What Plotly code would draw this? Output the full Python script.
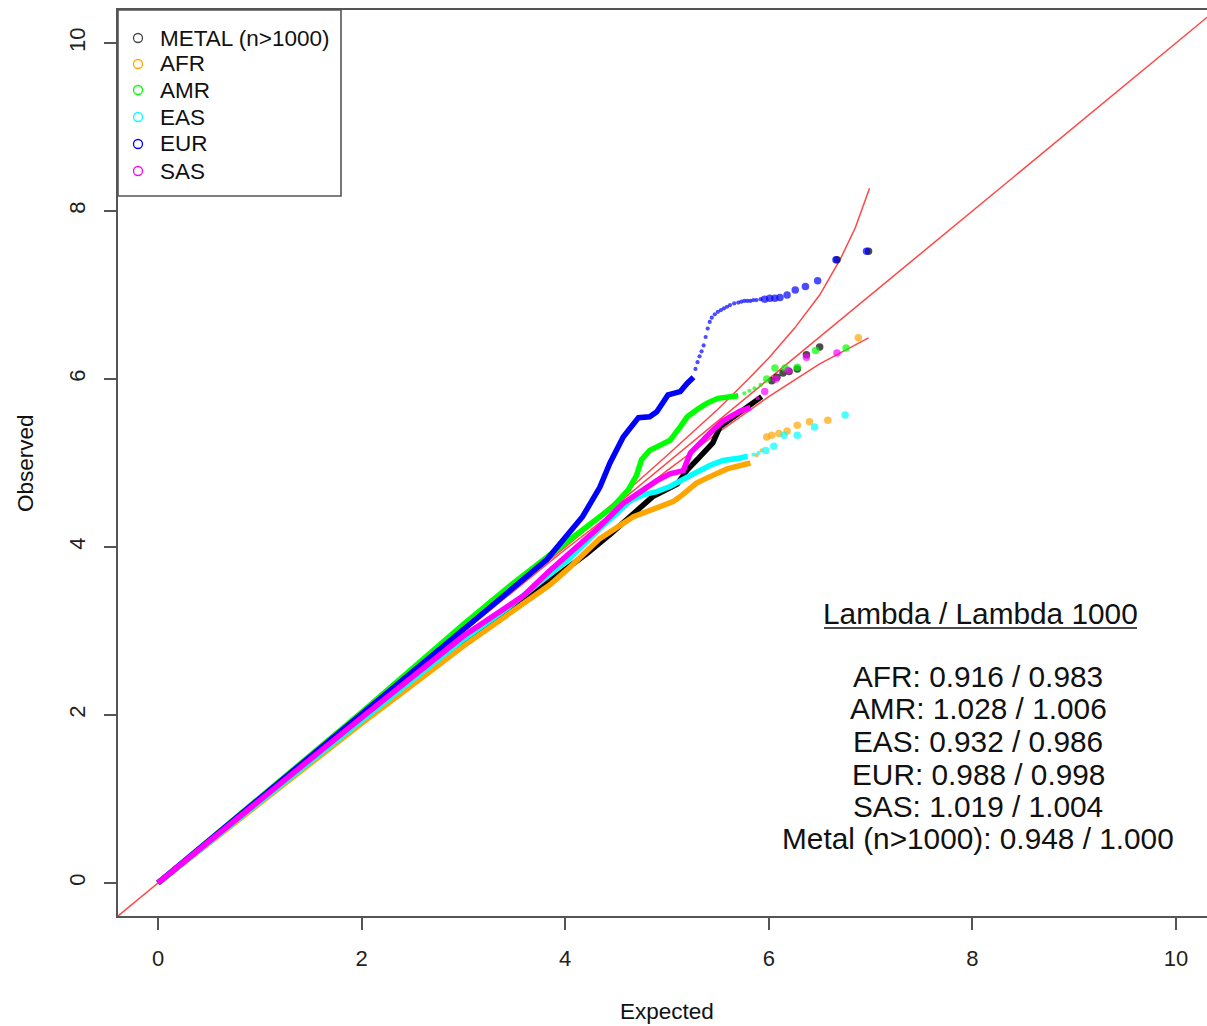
import plotly.graph_objects as go

# ---------------- data ----------------
X_TICKS = [0, 2, 4, 6, 8, 10]
Y_TICKS = [0, 2, 4, 6, 8, 10]

# reference line y = x and confidence band lines
DIAG_X = [-0.5, 11.0]
DIAG_Y = [-0.5, 11.0]
CI_UP_X = [0, 3.0, 4.0, 4.5, 5.0, 5.5, 5.8, 6.0, 6.25, 6.5, 6.7, 6.85, 6.99]
CI_UP_Y = [0, 3.01, 4.03, 4.55, 5.09, 5.64, 6.0, 6.25, 6.6, 7.0, 7.42, 7.8, 8.27]
CI_LO_X = [0, 3.0, 4.0, 4.5, 5.0, 5.5, 6.0, 6.5, 6.98]
CI_LO_Y = [0, 2.99, 3.97, 4.44, 4.91, 5.36, 5.79, 6.18, 6.49]

# METAL (n>1000)
METAL_DX = [0, 0.5, 1, 1.5, 2, 2.5, 2.97, 3.36, 3.53, 3.85, 4.21, 4.45, 4.67, 4.86, 5.10, 5.20, 5.32, 5.45, 5.52, 5.65, 5.82, 5.93]
METAL_DY = [0, 0.49, 0.98, 1.46, 1.94, 2.40, 2.83, 3.17, 3.31, 3.60, 3.92, 4.16, 4.39, 4.60, 4.75, 4.92, 5.07, 5.24, 5.43, 5.55, 5.69, 5.79]
METAL_TX = [6.03, 6.08, 6.14, 6.20, 6.28, 6.37, 6.50, 6.67, 6.98]
METAL_TY = [5.98, 6.02, 6.07, 6.09, 6.12, 6.29, 6.38, 7.42, 7.52]

# AFR
AFR_DX = [0, 1, 2, 2.5, 3.0, 3.5, 3.85, 4.02, 4.34, 4.67, 5.06, 5.13, 5.29, 5.39, 5.59, 5.82]
AFR_DY = [0, 0.96, 1.90, 2.36, 2.82, 3.25, 3.55, 3.73, 4.10, 4.36, 4.54, 4.60, 4.76, 4.82, 4.93, 5.00]
AFR_TX = [5.88, 5.93, 5.98, 6.03, 6.10, 6.18, 6.28, 6.40, 6.58, 6.88]
AFR_TY = [5.09, 5.15, 5.31, 5.33, 5.35, 5.38, 5.45, 5.49, 5.51, 6.49]

# AMR
AMR_DX = [0, 1, 2, 3, 3.5, 3.95, 4.2, 4.47, 4.62, 4.70, 4.75, 4.83, 4.93, 5.03, 5.13, 5.2, 5.3, 5.39, 5.5, 5.6, 5.7]
AMR_DY = [0, 1.01, 2.03, 3.08, 3.58, 4.00, 4.23, 4.48, 4.68, 4.85, 5.04, 5.15, 5.21, 5.27, 5.43, 5.55, 5.64, 5.71, 5.77, 5.79, 5.80]
AMR_TX = [5.76, 5.81, 5.86, 5.92, 5.98, 6.06, 6.16, 6.28, 6.46, 6.76]
AMR_TY = [5.83, 5.86, 5.89, 5.93, 6.00, 6.13, 6.13, 6.14, 6.34, 6.37]

# EAS
EAS_DX = [0, 1, 2, 3, 3.43, 3.82, 4.02, 4.34, 4.64, 4.76, 4.9, 5.03, 5.13, 5.26, 5.42, 5.55, 5.72, 5.79]
EAS_DY = [0, 0.97, 1.94, 2.90, 3.27, 3.64, 3.84, 4.22, 4.55, 4.62, 4.66, 4.72, 4.79, 4.87, 4.97, 5.03, 5.06, 5.08]
EAS_TX = [5.85, 5.90, 5.97, 6.05, 6.15, 6.28, 6.45, 6.75]
EAS_TY = [5.10, 5.12, 5.15, 5.20, 5.33, 5.33, 5.43, 5.57]

# EUR
EUR_DX = [0, 1, 2, 3, 3.23, 3.82, 4.17, 4.34, 4.44, 4.57, 4.64, 4.72, 4.83, 4.90, 5.01, 5.06, 5.13, 5.20, 5.26]
EUR_DY = [0, 1.0, 2.0, 3.01, 3.25, 3.85, 4.36, 4.71, 5.0, 5.31, 5.43, 5.54, 5.55, 5.61, 5.81, 5.83, 5.85, 5.95, 6.02]
EUR_TX = [5.28, 5.30, 5.32, 5.34, 5.36, 5.38, 5.40, 5.42, 5.44, 5.47, 5.50, 5.53, 5.56, 5.59, 5.62, 5.66, 5.70,
          5.73, 5.76, 5.79, 5.82, 5.85, 5.88, 5.92, 5.96, 6.01, 6.06, 6.11, 6.18, 6.26, 6.36, 6.48, 6.66, 6.96]
EUR_TY = [6.12, 6.20, 6.27, 6.33, 6.40, 6.50, 6.60, 6.68, 6.73, 6.77, 6.80, 6.82, 6.84, 6.86, 6.88, 6.90, 6.91,
          6.92, 6.93, 6.93, 6.93, 6.94, 6.94, 6.95, 6.95, 6.96, 6.96, 6.97, 7.00, 7.06, 7.10, 7.17, 7.42, 7.52]

# SAS
SAS_DX = [0, 1, 2, 3, 3.39, 3.59, 3.85, 4.31, 4.57, 4.73, 4.90, 5.03, 5.16, 5.23, 5.32, 5.45, 5.55, 5.65, 5.72, 5.82]
SAS_DY = [0, 0.99, 1.97, 2.94, 3.27, 3.42, 3.72, 4.21, 4.52, 4.66, 4.79, 4.87, 4.91, 5.12, 5.24, 5.39, 5.50, 5.58, 5.62, 5.66]
SAS_TX = [5.89, 5.96, 6.07, 6.19, 6.37, 6.67]
SAS_TY = [5.77, 5.85, 6.00, 6.10, 6.26, 6.31]

LEGEND_LABELS = ["METAL (n>1000)", "AFR", "AMR", "EAS", "EUR", "SAS"]
LAMBDA_TITLE = "Lambda / Lambda 1000"
LAMBDA_LINES = ["AFR: 0.916 / 0.983", "AMR: 1.028 / 1.006", "EAS: 0.932 / 0.986",
                "EUR: 0.988 / 0.998", "SAS: 1.019 / 1.004", "Metal (n>1000): 0.948 / 1.000"]

# ---------------- styling ----------------
COLORS = ["black", "orange", "#00ff00", "cyan", "blue", "magenta"]
RED = "rgb(255,70,70)"
AXC = "#555555"
FONT = "Liberation Sans, Arial, Helvetica, sans-serif"

W, H = 1207, 1026
ML, MR, MT, MB = 118, 0, 10, 110
PW, PH = W - ML - MR, H - MT - MB


def pxx(px):
    return (px - ML) / PW


def pxy(py):
    return (MT + PH - py) / PH


fig = go.Figure()

# red reference lines (drawn first, below points)
for xs, ys in [(DIAG_X, DIAG_Y), (CI_UP_X, CI_UP_Y), (CI_LO_X, CI_LO_Y)]:
    fig.add_trace(go.Scatter(x=xs, y=ys, mode="lines", line=dict(color=RED, width=1.5),
                             hoverinfo="skip", showlegend=False))

series = [
    (METAL_DX, METAL_DY, METAL_TX, METAL_TY),
    (AFR_DX, AFR_DY, AFR_TX, AFR_TY),
    (AMR_DX, AMR_DY, AMR_TX, AMR_TY),
    (EAS_DX, EAS_DY, EAS_TX, EAS_TY),
    (EUR_DX, EUR_DY, EUR_TX, EUR_TY),
    (SAS_DX, SAS_DY, SAS_TX, SAS_TY),
]

for (dx, dy, tx, ty), col, name in zip(series, COLORS, LEGEND_LABELS):
    fig.add_trace(go.Scatter(x=dx, y=dy, mode="lines", name=name,
                             line=dict(color=col, width=5.5, shape="linear"),
                             showlegend=False))
    sizes = [7.5 if v >= 5.95 else 4.2 for v in tx]
    fig.add_trace(go.Scatter(x=tx, y=ty, mode="markers", name=name,
                             marker=dict(color=col, size=sizes, line=dict(width=0)),
                             showlegend=False))

fig.update_xaxes(range=[-0.393, 10.305], tickvals=X_TICKS, ticktext=[str(v) for v in X_TICKS],
                 showgrid=False, zeroline=False, showline=True, mirror=True,
                 linecolor=AXC, linewidth=1.6, ticks="outside", ticklen=12, tickwidth=1.5,
                 tickcolor=AXC, tickfont=dict(size=22, color="#222", family=FONT),
                 ticklabelstandoff=10)
fig.update_yaxes(range=[-0.393, 10.393], tickvals=Y_TICKS, ticktext=[str(v) for v in Y_TICKS],
                 showgrid=False, zeroline=False, showline=True, mirror=False,
                 linecolor=AXC, linewidth=1.6, ticks="outside", ticklen=12, tickwidth=1.5,
                 tickcolor=AXC, tickangle=-90, tickfont=dict(size=22, color="#222", family=FONT),
                 ticklabelstandoff=10)

shapes = []
annotations = []

# legend box (manual, like R's legend)
shapes.append(dict(type="rect", xref="paper", yref="paper", x0=pxx(118), x1=pxx(341),
                   y0=pxy(196), y1=pxy(10), line=dict(color=AXC, width=1.6),
                   fillcolor="white", layer="above"))
leg_rows = [38, 64, 90, 117, 144, 171]
for row, col, lab in zip(leg_rows, COLORS, LEGEND_LABELS):
    shapes.append(dict(type="circle", xref="paper", yref="paper",
                       xsizemode="pixel", ysizemode="pixel",
                       xanchor=pxx(138), yanchor=pxy(row),
                       x0=-4.5, x1=4.5, y0=-4.5, y1=4.5,
                       line=dict(color=col if col != "black" else "#444", width=1.3),
                       layer="above"))
    annotations.append(dict(text=lab, xref="paper", yref="paper", x=pxx(158), y=pxy(row),
                            xanchor="left", yanchor="middle", showarrow=False,
                            font=dict(size=22.5, color="#111", family=FONT)))

# lambda block
annotations.append(dict(text=LAMBDA_TITLE, xref="paper", yref="paper", x=pxx(980), y=pxy(613),
                        xanchor="center", yanchor="middle", showarrow=False,
                        font=dict(size=29.8, color="#111", family=FONT)))
shapes.append(dict(type="line", xref="paper", yref="paper", x0=pxx(824), x1=pxx(1137),
                   y0=pxy(628), y1=pxy(628), line=dict(color="#111", width=1.5)))
lam_rows = [676, 708, 741, 774, 806, 838]
for row, txt in zip(lam_rows, LAMBDA_LINES):
    annotations.append(dict(text=txt, xref="paper", yref="paper", x=pxx(978), y=pxy(row),
                            xanchor="center", yanchor="middle", showarrow=False,
                            font=dict(size=29.8, color="#111", family=FONT)))

# axis titles
annotations.append(dict(text="Expected", xref="paper", yref="paper", x=pxx(667), y=pxy(1011),
                        xanchor="center", yanchor="middle", showarrow=False,
                        font=dict(size=22.5, color="#111", family=FONT)))
annotations.append(dict(text="Observed", xref="paper", yref="paper", x=pxx(25), y=pxy(463),
                        xanchor="center", yanchor="middle", showarrow=False, textangle=-90,
                        font=dict(size=22.5, color="#111", family=FONT)))

fig.update_layout(width=W, height=H, margin=dict(l=ML, r=MR, t=MT, b=MB),
                  paper_bgcolor="white", plot_bgcolor="white",
                  shapes=shapes, annotations=annotations, showlegend=False,
                  font=dict(family=FONT))

fig.write_html("out.html")
